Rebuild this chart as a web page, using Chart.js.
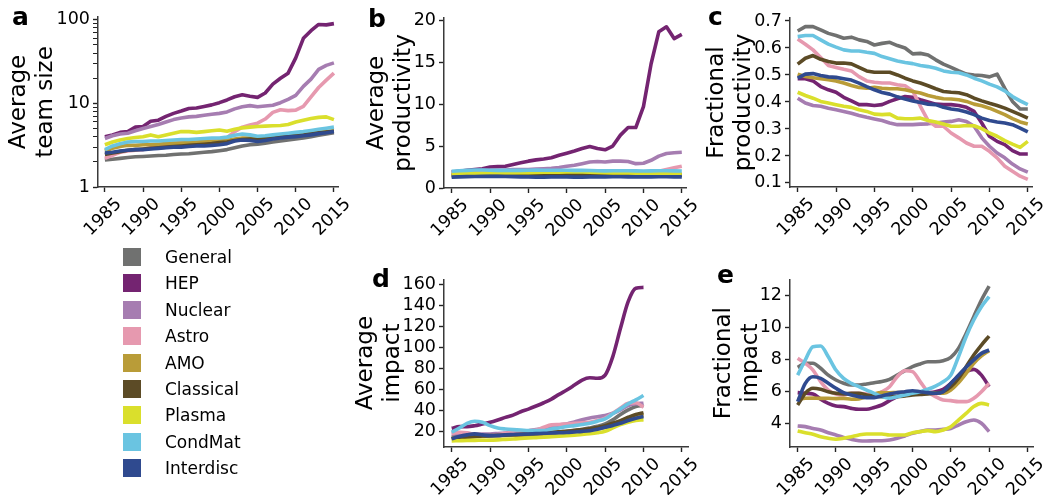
<!DOCTYPE html>
<html>
<head>
<meta charset="utf-8">
<script src="https://cdn.jsdelivr.net/npm/chart.js@4.4.1/dist/chart.umd.min.js"></script>
<style>
  html, body { margin: 0; padding: 0; background: #fff; }
  #wrap { position: relative; width: 1050px; height: 495px; overflow: hidden; font-family: "DejaVu Sans", sans-serif; color: #000; }
  canvas { position: absolute; }
  .letter { position: absolute; font-weight: bold; font-size: 25px; line-height: 1; }
  .sw { position: absolute; width: 18px; height: 18px; }
  .lab { position: absolute; font-size: 17px; line-height: 18px; white-space: nowrap; }
</style>
</head>
<body>
<div id="wrap">
  <canvas id="pa" width="360" height="250" style="left:0;top:0"></canvas>
  <canvas id="pb" width="350" height="250" style="left:350px;top:0"></canvas>
  <canvas id="pc" width="350" height="250" style="left:700px;top:0"></canvas>
  <canvas id="pd" width="350" height="245" style="left:350px;top:250px"></canvas>
  <canvas id="pe" width="350" height="245" style="left:700px;top:250px"></canvas>
  <div class="letter" style="left:12px;top:4px">a</div>
  <div class="letter" style="left:368px;top:6px">b</div>
  <div class="letter" style="left:708px;top:4px">c</div>
  <div class="letter" style="left:372px;top:266px">d</div>
  <div class="letter" style="left:717px;top:262px">e</div>
  <div id="legend"></div>
</div>
<script>
// ---- categories ----
const FIELDS = ['General', 'HEP', 'Nuclear', 'Astro', 'AMO', 'Classical', 'Plasma', 'CondMat', 'Interdisc'];
const COLORS = ['#707170', '#742471', '#a67db1', '#e699af', '#b99c38', '#5c4b26', '#dadf2c', '#6ac4e1', '#2f4a8f'];

const YEARS = [1985, 1986, 1987, 1988, 1989, 1990, 1991, 1992, 1993, 1994, 1995, 1996, 1997, 1998, 1999,
               2000, 2001, 2002, 2003, 2004, 2005, 2006, 2007, 2008, 2009, 2010, 2011, 2012, 2013, 2014, 2015];
const YEARS_IMPACT = [1985, 1986, 1987, 1988, 1989, 1990, 1991, 1992, 1993, 1994, 1995, 1996, 1997,
                      1998, 1999, 2000, 2001, 2002, 2003, 2004, 2005, 2006, 2007, 2008, 2009, 2010];

// ---- tick labels ----
const X_TICKS = [1985, 1990, 1995, 2000, 2005, 2010, 2015];
const TEAM_TICKS = [1, 10, 100];
const TEAM_MINOR = [2, 3, 4, 5, 6, 7, 8, 9, 20, 30, 40, 50, 60, 70, 80, 90];
const PROD_TICKS = [0, 5, 10, 15, 20];
const FPROD_TICKS = [0.1, 0.2, 0.3, 0.4, 0.5, 0.6, 0.7];
const IMPACT_TICKS = [20, 40, 60, 80, 100, 120, 140, 160];
const FIMPACT_TICKS = [4, 6, 8, 10, 12];

// ---- a: average team size ----
const team_General   = [2.1, 2.15, 2.2, 2.25, 2.3, 2.32, 2.35, 2.38, 2.4, 2.45, 2.48, 2.5, 2.55, 2.6, 2.65, 2.72, 2.8, 2.95, 3.1, 3.2, 3.25, 3.35, 3.45, 3.55, 3.65, 3.75, 3.85, 4.0, 4.15, 4.3, 4.45];
const team_HEP       = [4.0, 4.2, 4.5, 4.6, 5.2, 5.3, 6.1, 6.3, 7.0, 7.6, 8.1, 8.7, 8.8, 9.2, 9.6, 10.2, 11.0, 12.0, 12.7, 12.2, 11.8, 13.3, 17.0, 20.0, 23.0, 35.0, 60.0, 74.0, 88.0, 87.0, 90.0];
const team_Nuclear   = [3.8, 4.1, 4.3, 4.4, 4.7, 5.0, 5.3, 5.6, 6.0, 6.4, 6.7, 6.9, 7.0, 7.2, 7.4, 7.6, 7.9, 8.6, 9.1, 9.4, 9.1, 9.3, 9.5, 10.2, 11.2, 12.5, 16.0, 19.5, 25.5, 28.5, 30.5];
const team_Astro     = [2.2, 2.4, 2.6, 2.7, 2.75, 2.8, 2.95, 3.05, 3.2, 3.3, 3.4, 3.35, 3.3, 3.6, 3.7, 3.6, 3.9, 4.6, 5.2, 5.5, 5.8, 6.5, 7.8, 8.4, 8.2, 8.3, 9.2, 12.0, 15.5, 19.0, 23.0];
const team_AMO       = [2.7, 2.9, 3.05, 3.15, 3.15, 3.2, 3.2, 3.25, 3.3, 3.35, 3.35, 3.4, 3.45, 3.5, 3.5, 3.55, 3.6, 3.75, 3.85, 3.85, 3.8, 3.85, 3.95, 4.05, 4.1, 4.2, 4.3, 4.4, 4.5, 4.6, 4.7];
const team_Classical = [2.45, 2.55, 2.65, 2.75, 2.8, 2.85, 2.9, 2.95, 3.0, 3.05, 3.1, 3.15, 3.2, 3.25, 3.3, 3.4, 3.45, 3.6, 3.7, 3.75, 3.7, 3.8, 3.9, 4.0, 4.05, 4.15, 4.25, 4.35, 4.45, 4.55, 4.65];
const team_Plasma    = [3.2, 3.45, 3.65, 3.8, 3.9, 4.0, 4.2, 4.0, 4.2, 4.4, 4.6, 4.6, 4.5, 4.6, 4.7, 4.8, 4.65, 4.9, 5.1, 5.2, 5.3, 5.35, 5.4, 5.45, 5.6, 6.0, 6.3, 6.6, 6.8, 6.9, 6.4];
const team_CondMat   = [2.8, 3.1, 3.3, 3.45, 3.5, 3.5, 3.55, 3.55, 3.6, 3.65, 3.7, 3.7, 3.75, 3.8, 3.85, 3.85, 3.95, 4.15, 4.3, 4.2, 4.05, 4.1, 4.2, 4.3, 4.4, 4.5, 4.6, 4.75, 4.9, 5.05, 5.2];
const team_Interdisc = [2.55, 2.6, 2.7, 2.75, 2.8, 2.8, 2.85, 2.9, 2.95, 3.0, 3.0, 3.05, 3.1, 3.1, 3.15, 3.2, 3.3, 3.55, 3.65, 3.6, 3.5, 3.6, 3.75, 3.85, 3.95, 4.0, 4.1, 4.2, 4.35, 4.45, 4.6];

// ---- b: average productivity ----
const prod_General   = [1.45, 1.45, 1.47, 1.47, 1.45, 1.45, 1.46, 1.45, 1.44, 1.44, 1.45, 1.45, 1.46, 1.47, 1.47, 1.48, 1.48, 1.47, 1.48, 1.48, 1.5, 1.5, 1.5, 1.49, 1.48, 1.49, 1.5, 1.5, 1.52, 1.52, 1.52];
const prod_HEP       = [1.9, 2.0, 2.1, 2.2, 2.3, 2.5, 2.55, 2.6, 2.8, 3.0, 3.2, 3.35, 3.45, 3.6, 3.9, 4.15, 4.4, 4.7, 4.95, 4.7, 4.55, 5.0, 6.3, 7.2, 7.2, 9.7, 14.8, 18.6, 19.2, 17.8, 18.3];
const prod_Nuclear   = [1.9, 1.95, 2.0, 2.05, 2.1, 2.1, 2.1, 2.15, 2.2, 2.2, 2.2, 2.25, 2.3, 2.35, 2.45, 2.6, 2.7, 2.9, 3.1, 3.15, 3.1, 3.2, 3.2, 3.15, 2.9, 2.95, 3.3, 3.8, 4.1, 4.2, 4.25];
const prod_Astro     = [1.7, 1.7, 1.75, 1.75, 1.8, 1.8, 1.75, 1.7, 1.7, 1.72, 1.75, 1.8, 1.85, 1.85, 1.85, 1.9, 1.8, 1.75, 1.7, 1.75, 1.75, 1.85, 1.95, 2.0, 1.95, 1.75, 1.8, 2.0, 2.2, 2.4, 2.6];
const prod_AMO       = [1.6, 1.62, 1.65, 1.65, 1.65, 1.65, 1.65, 1.66, 1.66, 1.67, 1.68, 1.7, 1.72, 1.73, 1.75, 1.76, 1.76, 1.76, 1.77, 1.77, 1.75, 1.74, 1.72, 1.72, 1.7, 1.7, 1.68, 1.66, 1.65, 1.64, 1.62];
const prod_Classical = [1.5, 1.5, 1.52, 1.52, 1.52, 1.52, 1.53, 1.53, 1.53, 1.54, 1.55, 1.55, 1.56, 1.57, 1.58, 1.58, 1.58, 1.57, 1.57, 1.56, 1.55, 1.55, 1.55, 1.54, 1.53, 1.52, 1.52, 1.51, 1.5, 1.5, 1.5];
const prod_Plasma    = [1.65, 1.7, 1.72, 1.75, 1.75, 1.78, 1.78, 1.8, 1.8, 1.82, 1.83, 1.85, 1.87, 1.88, 1.88, 1.9, 1.9, 1.9, 1.88, 1.85, 1.82, 1.8, 1.8, 1.78, 1.75, 1.72, 1.7, 1.7, 1.68, 1.65, 1.65];
const prod_CondMat   = [2.0, 2.05, 2.1, 2.15, 2.15, 2.12, 2.1, 2.1, 2.1, 2.1, 2.12, 2.13, 2.12, 2.12, 2.11, 2.12, 2.1, 2.1, 2.08, 2.05, 2.04, 2.05, 2.06, 2.05, 2.04, 2.03, 2.04, 2.05, 2.05, 2.04, 2.03];
const prod_Interdisc = [1.3, 1.32, 1.35, 1.37, 1.38, 1.38, 1.38, 1.37, 1.35, 1.33, 1.32, 1.3, 1.3, 1.32, 1.33, 1.33, 1.3, 1.3, 1.32, 1.33, 1.33, 1.34, 1.34, 1.33, 1.33, 1.32, 1.33, 1.34, 1.34, 1.33, 1.33];

// ---- c: fractional productivity ----
const fprod_General   = [0.663, 0.679, 0.679, 0.667, 0.654, 0.646, 0.636, 0.64, 0.63, 0.624, 0.611, 0.617, 0.621, 0.609, 0.6, 0.578, 0.58, 0.574, 0.556, 0.54, 0.528, 0.515, 0.503, 0.5, 0.498, 0.493, 0.503, 0.45, 0.402, 0.374, 0.374];
const fprod_HEP       = [0.486, 0.486, 0.478, 0.457, 0.445, 0.436, 0.417, 0.404, 0.39, 0.39, 0.387, 0.39, 0.402, 0.412, 0.42, 0.417, 0.408, 0.4, 0.392, 0.39, 0.39, 0.387, 0.38, 0.365, 0.322, 0.273, 0.254, 0.242, 0.22, 0.207, 0.207];
const fprod_Nuclear   = [0.414, 0.396, 0.387, 0.384, 0.377, 0.371, 0.365, 0.358, 0.35, 0.343, 0.337, 0.331, 0.322, 0.316, 0.316, 0.316, 0.318, 0.319, 0.322, 0.326, 0.328, 0.334, 0.328, 0.31, 0.267, 0.236, 0.211, 0.193, 0.17, 0.152, 0.14];
const fprod_Astro     = [0.633, 0.614, 0.593, 0.565, 0.535, 0.528, 0.521, 0.515, 0.494, 0.478, 0.473, 0.47, 0.47, 0.464, 0.46, 0.441, 0.384, 0.331, 0.31, 0.31, 0.285, 0.267, 0.248, 0.236, 0.236, 0.217, 0.193, 0.162, 0.143, 0.125, 0.113];
const fprod_AMO       = [0.503, 0.494, 0.49, 0.486, 0.482, 0.478, 0.47, 0.461, 0.454, 0.451, 0.454, 0.451, 0.449, 0.449, 0.445, 0.439, 0.433, 0.424, 0.417, 0.412, 0.411, 0.408, 0.402, 0.392, 0.386, 0.377, 0.365, 0.353, 0.338, 0.326, 0.318];
const fprod_Classical = [0.54, 0.562, 0.572, 0.558, 0.55, 0.544, 0.544, 0.541, 0.528, 0.515, 0.51, 0.51, 0.51, 0.5, 0.488, 0.478, 0.47, 0.46, 0.449, 0.439, 0.436, 0.434, 0.427, 0.414, 0.404, 0.395, 0.387, 0.377, 0.365, 0.353, 0.34];
const fprod_Plasma    = [0.436, 0.424, 0.414, 0.402, 0.396, 0.39, 0.384, 0.38, 0.371, 0.365, 0.355, 0.353, 0.355, 0.34, 0.338, 0.338, 0.34, 0.331, 0.326, 0.318, 0.31, 0.31, 0.313, 0.312, 0.301, 0.285, 0.273, 0.257, 0.244, 0.232, 0.254];
const fprod_CondMat   = [0.642, 0.646, 0.646, 0.63, 0.614, 0.603, 0.593, 0.589, 0.589, 0.584, 0.58, 0.568, 0.56, 0.552, 0.546, 0.542, 0.535, 0.531, 0.525, 0.515, 0.51, 0.508, 0.5, 0.488, 0.478, 0.466, 0.456, 0.441, 0.42, 0.404, 0.39];
const fprod_Interdisc = [0.488, 0.503, 0.505, 0.498, 0.493, 0.491, 0.486, 0.481, 0.47, 0.457, 0.445, 0.435, 0.429, 0.419, 0.411, 0.404, 0.398, 0.392, 0.39, 0.38, 0.374, 0.37, 0.363, 0.353, 0.34, 0.331, 0.326, 0.322, 0.316, 0.303, 0.289];

// ---- d: average impact ----
const imp_General   = [15, 15.5, 16, 16.3, 16.3, 16.3, 16.5, 16.7, 17, 17.2, 17.3, 17.8, 18.3, 19, 19.8, 20.5, 21.3, 22.2, 23.6, 25.2, 27.4, 31.3, 36.4, 40.7, 44, 45];
const imp_HEP       = [23.2, 24.8, 24.8, 25.7, 27.3, 28.9, 31.1, 33.6, 35.8, 39, 41.5, 44.4, 47.5, 51, 55.5, 59.6, 64.3, 69.1, 71.3, 70.7, 73.8, 91.3, 118.2, 143.5, 156.2, 157];
const imp_Nuclear   = [18, 18.2, 18, 17.9, 17.9, 17.9, 18.3, 18.8, 19.5, 20.2, 21, 22, 23.3, 25, 26.3, 27.4, 29.3, 31.3, 33, 34.2, 35.3, 37.5, 40.7, 44.8, 46.5, 47];
const imp_Astro     = [18.5, 19.5, 19, 17.3, 16.3, 16.3, 17.3, 18.5, 19.5, 20.5, 21, 21.6, 24.2, 26.5, 26.8, 27.4, 28, 28.5, 29, 30.6, 33, 37.5, 42.6, 47, 47.5, 43.3];
const imp_AMO       = [14, 14.5, 15, 15.3, 15.5, 16, 16.2, 16.4, 16.6, 16.8, 17, 17.4, 17.8, 18.4, 19, 19.5, 20.2, 21, 21.8, 22.8, 24, 26.5, 29, 32, 34.5, 36];
const imp_Classical = [13.3, 14.2, 15, 15.5, 16, 16.3, 16.5, 16.8, 17.1, 17.5, 17.9, 18.3, 18.8, 19.4, 20, 20.5, 21.2, 22, 22.8, 24, 25.8, 28, 30.6, 33.7, 36.4, 38];
const imp_Plasma    = [11.3, 11.5, 11.7, 11.8, 11.9, 12, 12.3, 12.7, 13.1, 13.5, 14, 14.4, 14.8, 15.3, 15.8, 16.3, 16.8, 17.3, 18, 19, 20.5, 23.6, 26.8, 29, 30.6, 31.5];
const imp_CondMat   = [19.5, 23.6, 28, 30, 29, 25.8, 23.6, 22.6, 22, 21.6, 21, 21, 21, 22.6, 23.6, 24.9, 25.8, 26.8, 28, 30, 32.2, 37, 41.7, 46.5, 50.3, 54.4];
const imp_Interdisc = [13.3, 15.5, 17, 18, 17, 16.3, 16.5, 17, 17.3, 17.6, 17.9, 18.2, 18.5, 18.8, 19, 19.3, 19.8, 20.3, 21, 22.3, 24.2, 26, 28, 30.6, 32.8, 34.4];

// ---- e: fractional impact ----
const fimp_General   = [7.49, 7.74, 7.74, 7.43, 7.0, 6.7, 6.5, 6.39, 6.39, 6.45, 6.53, 6.6, 6.74, 7.0, 7.28, 7.53, 7.7, 7.84, 7.84, 7.9, 8.11, 8.67, 9.6, 10.65, 11.69, 12.56];
const fimp_HEP       = [5.91, 5.87, 5.83, 5.5, 5.24, 5.08, 5.04, 4.93, 4.87, 4.87, 4.99, 5.14, 5.41, 5.66, 5.83, 5.87, 5.87, 5.91, 5.97, 6.12, 6.49, 6.9, 7.22, 7.36, 7.0, 6.28];
const fimp_Nuclear   = [3.83, 3.79, 3.68, 3.58, 3.41, 3.27, 3.12, 3.0, 2.91, 2.89, 2.91, 2.91, 2.96, 3.06, 3.21, 3.37, 3.48, 3.58, 3.58, 3.62, 3.68, 3.89, 4.1, 4.2, 4.0, 3.48];
const fimp_Astro     = [8.05, 7.74, 7.32, 6.6, 6.07, 5.83, 5.76, 5.87, 5.87, 5.83, 5.76, 5.97, 6.28, 6.9, 7.28, 7.22, 6.6, 5.97, 5.66, 5.45, 5.41, 5.35, 5.35, 5.56, 5.97, 6.49];
const fimp_AMO       = [5.5, 5.56, 5.57, 5.55, 5.56, 5.54, 5.55, 5.5, 5.52, 5.66, 5.83, 5.91, 5.9, 5.92, 5.91, 5.9, 5.92, 5.91, 5.9, 5.87, 6.07, 6.53, 7.11, 7.74, 8.2, 8.53];
const fimp_Classical = [5.14, 5.87, 6.18, 6.12, 5.97, 5.87, 5.83, 5.87, 5.87, 5.76, 5.7, 5.66, 5.66, 5.66, 5.7, 5.76, 5.8, 5.83, 5.87, 5.97, 6.28, 6.8, 7.53, 8.26, 8.88, 9.44];
const fimp_Plasma    = [3.52, 3.41, 3.31, 3.16, 3.06, 3.0, 3.06, 3.16, 3.27, 3.33, 3.33, 3.33, 3.27, 3.27, 3.27, 3.41, 3.48, 3.54, 3.48, 3.58, 3.79, 4.2, 4.62, 5.04, 5.24, 5.14];
const fimp_CondMat   = [7.0, 7.95, 8.78, 8.82, 8.15, 7.32, 6.8, 6.49, 6.28, 6.07, 5.87, 5.66, 5.56, 5.66, 5.76, 5.87, 5.97, 6.12, 6.32, 6.59, 7.0, 8.15, 9.4, 10.44, 11.27, 11.9];
const fimp_Interdisc = [5.35, 6.49, 6.9, 6.8, 6.49, 6.18, 5.91, 5.76, 5.66, 5.6, 5.6, 5.7, 5.83, 5.91, 5.97, 6.03, 5.97, 5.91, 5.87, 5.97, 6.49, 7.0, 7.49, 7.95, 8.36, 8.57];

const FONT = "'DejaVu Sans', sans-serif";

function makePanel(id, c) {
  const cv = document.getElementById(id);
  const W = cv.width, H = cv.height;
  const datasets = c.series.map((vals, i) => ({
    label: FIELDS[i],
    data: vals.map((v, k) => ({ x: c.years[k], y: v })),
    borderColor: COLORS[i],
    backgroundColor: COLORS[i],
    borderWidth: 3.6,
    pointRadius: 0,
    fill: false,
    tension: c.smooth ? 0.4 : 0,
    cubicInterpolationMode: c.smooth ? 'monotone' : 'default',
    borderJoinStyle: 'round',
    order: FIELDS.length - i
  }));
  const tickGrid = {
    display: true, drawOnChartArea: false, drawTicks: true, tickLength: 5,
    tickColor: '#222',
    tickWidth: ctx => (ctx.tick && ctx.tick.major === false ? 1 : 1.4)
  };
  new Chart(cv, {
    type: 'line',
    data: { datasets },
    options: {
      responsive: false,
      animation: false,
      events: [],
      layout: { padding: { left: 0, top: c.area.t, right: W - c.area.r, bottom: 0 } },
      plugins: { legend: { display: false }, tooltip: { enabled: false } },
      scales: {
        x: {
          type: 'linear', min: c.xMin, max: c.xMax,
          afterBuildTicks: s => { s.ticks = X_TICKS.map(v => ({ value: v })); },
          afterFit: s => { s.height = H - c.area.b; },
          grid: tickGrid,
          border: { display: true, color: '#3a3a3a', width: 1.5 },
          ticks: {
            minRotation: 45, maxRotation: 45, autoSkip: false, padding: 2, labelOffset: 14,
            color: '#000', font: { family: FONT, size: 17.5 },
            callback: v => String(v)
          }
        },
        y: {
          type: c.yType, min: c.yMin, max: c.yMax,
          afterBuildTicks: s => {
            const major = c.yTicks.map(v => ({ value: v, major: true }));
            const minor = (c.yMinor || []).map(v => ({ value: v, major: false }));
            s.ticks = major.concat(minor).sort((p, q) => p.value - q.value);
          },
          afterFit: s => { s.width = c.area.l; },
          grid: tickGrid,
          border: { display: true, color: '#3a3a3a', width: 1.5 },
          ticks: {
            autoSkip: false, padding: 3, color: '#000', font: { family: FONT, size: 17.5 },
            callback: v => (c.yTicks.includes(v) ? c.fmt(v) : '')
          },
          title: {
            display: true, text: c.yTitle, color: '#000',
            font: { family: FONT, size: 23, lineHeight: 1.15 },
            padding: { top: c.titlePad, bottom: 0 }
          }
        }
      }
    }
  });
}

makePanel('pa', {
  years: YEARS,
  series: [team_General, team_HEP, team_Nuclear, team_Astro, team_AMO, team_Classical, team_Plasma, team_CondMat, team_Interdisc],
  yType: 'logarithmic', yMin: 1, yMax: 108, yTicks: TEAM_TICKS, yMinor: TEAM_MINOR, fmt: v => String(v),
  yTitle: ['Average', 'team size'], titlePad: 6,
  xMin: 1984.1, xMax: 2015.6,
  area: { l: 98, t: 17, r: 338.5, b: 187 }
});

makePanel('pb', {
  years: YEARS,
  series: [prod_General, prod_HEP, prod_Nuclear, prod_Astro, prod_AMO, prod_Classical, prod_Plasma, prod_CondMat, prod_Interdisc],
  yType: 'linear', yMin: 0, yMax: 20.25, yTicks: PROD_TICKS, fmt: v => String(v),
  yTitle: ['Average', 'productivity'], titlePad: 14,
  xMin: 1984, xMax: 2015.6,
  area: { l: 94, t: 18, r: 336.4, b: 188 }
});

makePanel('pc', {
  years: YEARS,
  series: [fprod_General, fprod_HEP, fprod_Nuclear, fprod_Astro, fprod_AMO, fprod_Classical, fprod_Plasma, fprod_CondMat, fprod_Interdisc],
  yType: 'linear', yMin: 0.085, yMax: 0.711, yTicks: FPROD_TICKS, fmt: v => v.toFixed(1),
  yTitle: ['Fractional', 'productivity'], titlePad: 4,
  xMin: 1984, xMax: 2015.6,
  area: { l: 90, t: 18, r: 332.4, b: 187 }
});

makePanel('pd', {
  years: YEARS_IMPACT, smooth: true,
  series: [imp_General, imp_HEP, imp_Nuclear, imp_Astro, imp_AMO, imp_Classical, imp_Plasma, imp_CondMat, imp_Interdisc],
  yType: 'linear', yMin: 5.5, yMax: 164.7, yTicks: IMPACT_TICKS, fmt: v => String(v),
  yTitle: ['Average', 'impact'], titlePad: 3,
  xMin: 1984, xMax: 2015.8,
  area: { l: 94, t: 29.3, r: 338, b: 197 }
});

makePanel('pe', {
  years: YEARS_IMPACT, smooth: true,
  series: [fimp_General, fimp_HEP, fimp_Nuclear, fimp_Astro, fimp_AMO, fimp_Classical, fimp_Plasma, fimp_CondMat, fimp_Interdisc],
  yType: 'linear', yMin: 2.52, yMax: 12.98, yTicks: FIMPACT_TICKS, fmt: v => String(v),
  yTitle: ['Fractional', 'impact'], titlePad: 11,
  xMin: 1984, xMax: 2015.8,
  area: { l: 90, t: 29.3, r: 333.5, b: 197 }
});

// shared legend for all panels
const legend = document.getElementById('legend');
FIELDS.forEach((name, i) => {
  const cy = 257 + i * 26.4;
  const sw = document.createElement('div');
  sw.className = 'sw';
  sw.style.left = '123px';
  sw.style.top = (cy - 9) + 'px';
  sw.style.background = COLORS[i];
  legend.appendChild(sw);
  const lab = document.createElement('div');
  lab.className = 'lab';
  lab.style.left = '165px';
  lab.style.top = (cy - 9) + 'px';
  lab.textContent = name;
  legend.appendChild(lab);
});
</script>
</body>
</html>
